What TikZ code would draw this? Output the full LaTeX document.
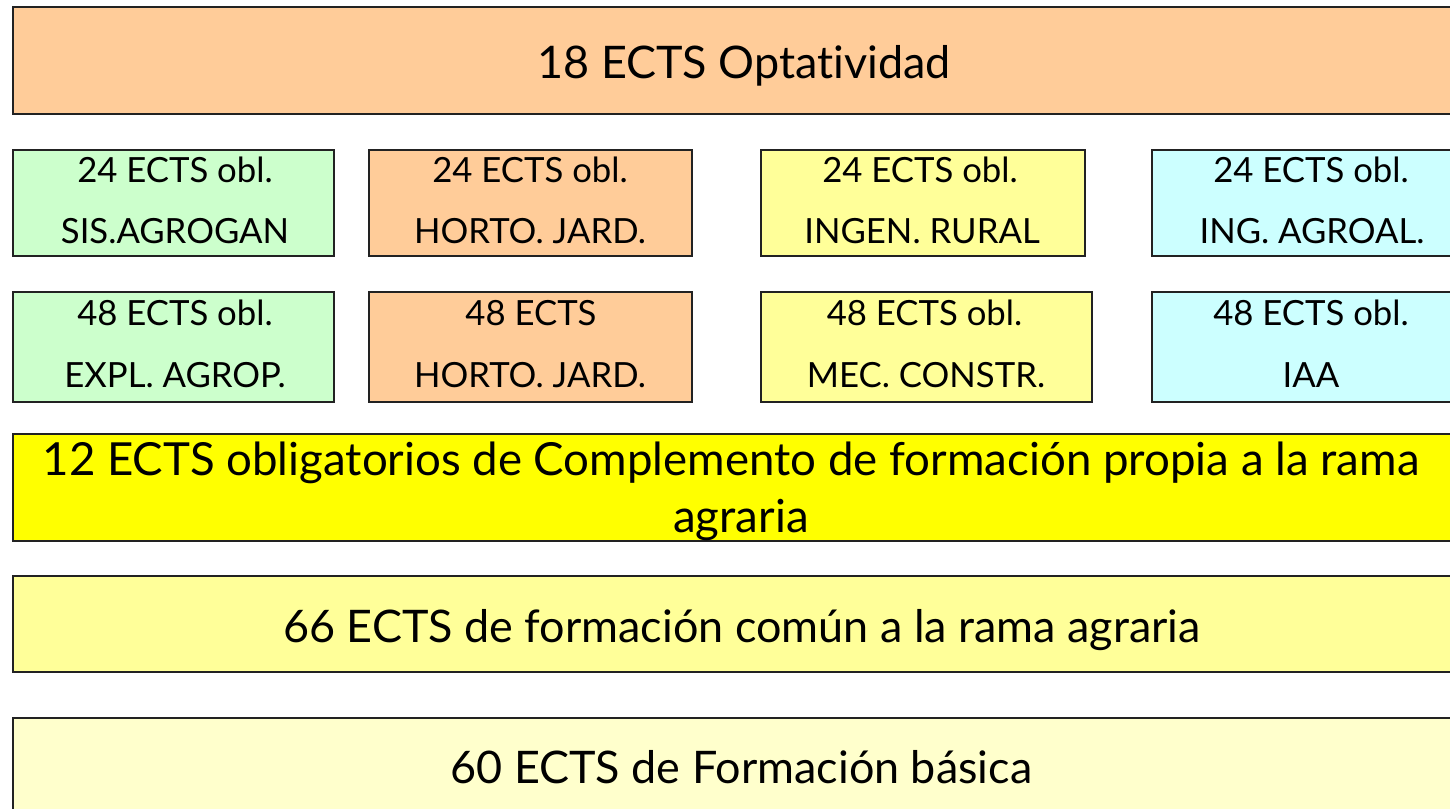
\documentclass[tikz,border=0pt]{standalone}
\usepackage{fontspec}
\setmainfont{Lato}[Ligatures=NoCommon]
\definecolor{corange}{HTML}{FFCC99}
\definecolor{cgreen}{HTML}{CCFFCC}
\definecolor{clyellow}{HTML}{FFFF99}
\definecolor{ccyan}{HTML}{CCFFFF}
\definecolor{cyellow}{HTML}{FFFF00}
\definecolor{cpale}{HTML}{FFFFCC}
\definecolor{cedge}{HTML}{222222}
\tikzset{
  box/.style={draw=cedge, line width=1.4bp, rectangle, inner sep=0pt, outer sep=0pt},
  small/.style={anchor=base, inner sep=0pt, font=\fontsize{34.7bp}{40bp}\selectfont},
  mid/.style={anchor=base, inner sep=0pt, font=\fontsize{45.6bp}{52bp}\selectfont},
  big/.style={anchor=base, inner sep=0pt, font=\fontsize{44.9bp}{52bp}\selectfont},
}
\begin{document}
\begin{tikzpicture}[x=1bp,y=-1bp]
\useasboundingbox (0,0) rectangle (1450,808);
\clip (0,0) rectangle (1450,808);
% top optatividad
\node[box, fill=corange, minimum width=1459bp, minimum height=107bp] (opt) at (742.5,60.5) {};
\node[big] (optt) at (744,78) {18 ECTS Optatividad};
% row 1
\node[box, fill=cgreen, minimum width=321bp, minimum height=106bp] (a1) at (173.5,203) {};
\node[box, fill=corange, minimum width=323bp, minimum height=106bp] (b1) at (530.5,203) {};
\node[box, fill=clyellow, minimum width=324bp, minimum height=106bp] (c1) at (923,203) {};
\node[box, fill=ccyan, minimum width=318bp, minimum height=106bp] (d1) at (1311,203) {};
\node[small] (a1t) at (175,182) {24 ECTS obl.};
\node[small] (a1b) at (175,243) {SIS.AGROGAN};
\node[small] (b1t) at (530,182) {24 ECTS obl.};
\node[small] (b1b) at (530,243) {HORTO. JARD.};
\node[small] (c1t) at (920,182) {24 ECTS obl.};
\node[small] (c1b) at (922,243) {INGEN. RURAL};
\node[small] (d1t) at (1311,182) {24 ECTS obl.};
\node[small] (d1b) at (1312,243) {ING. AGROAL.};
% row 2
\node[box, fill=cgreen, minimum width=321bp, minimum height=110bp] (a2) at (173.5,347) {};
\node[box, fill=corange, minimum width=323bp, minimum height=110bp] (b2) at (530.5,347) {};
\node[box, fill=clyellow, minimum width=331bp, minimum height=110bp] (c2) at (926.5,347) {};
\node[box, fill=ccyan, minimum width=318bp, minimum height=110bp] (d2) at (1311,347) {};
\node[small] (a2t) at (175,325) {48 ECTS obl.};
\node[small] (a2b) at (175,387) {EXPL. AGROP.};
\node[small] (b2t) at (531,325) {48 ECTS};
\node[small] (b2b) at (530,387) {HORTO. JARD.};
\node[small] (c2t) at (924.5,325) {48 ECTS obl.};
\node[small] (c2b) at (926,387) {MEC. CONSTR.};
\node[small] (d2t) at (1311,325) {48 ECTS obl.};
\node[small] (d2b) at (1311,387) {IAA};
% complemento
\node[box, fill=cyellow, minimum width=1459bp, minimum height=107bp] (comp) at (742.5,487.5) {};
\node[mid] (compt) at (731,475) {12 ECTS obligatorios de Complemento de formación propia a la rama};
\node[mid] (compb) at (741,532) {agraria};
% comun
\node[box, fill=clyellow, minimum width=1459bp, minimum height=96bp] (com) at (742.5,624) {};
\node[big] (comt) at (742,642) {66 ECTS de formación común a la rama agraria};
% basica
\node[box, fill=cpale, minimum width=1459bp, minimum height=107bp] (bas) at (742.5,771.5) {};
\node[big] (bast) at (741.5,783) {60 ECTS de Formación básica};
\end{tikzpicture}
\end{document}
